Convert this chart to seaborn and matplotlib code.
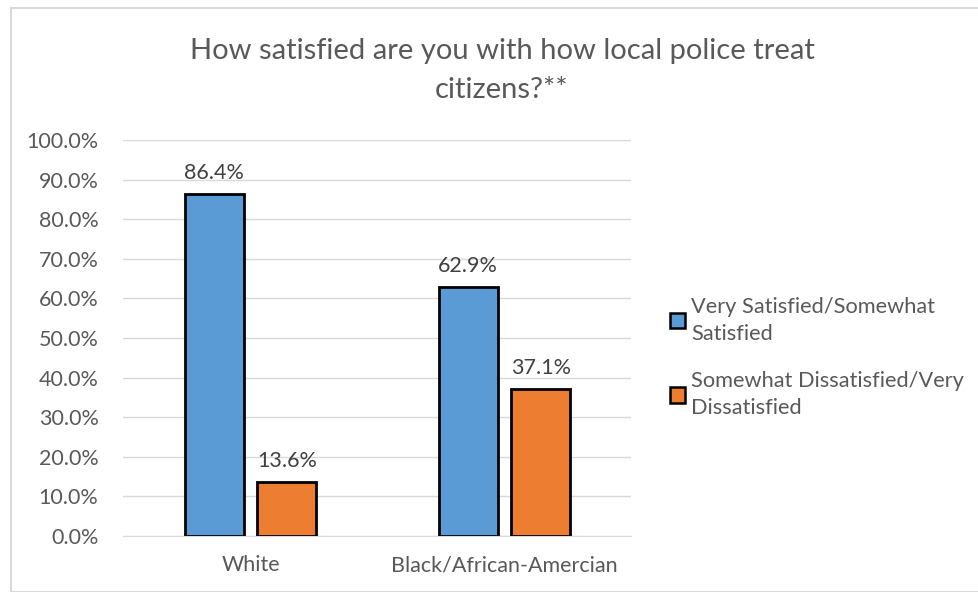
import pandas as pd
import numpy as np
import matplotlib.pyplot as plt
import seaborn as sns
from matplotlib.patches import Patch, Rectangle

# data
groups = ['White', 'Black/African-Amercian']
satisfied = [86.4, 62.9]
dissatisfied = [13.6, 37.1]
series_names = ['Very Satisfied/Somewhat\nSatisfied', 'Somewhat Dissatisfied/Very\nDissatisfied']
yticks = np.arange(0, 101, 10)
title_lines = ['How satisfied are you with how local police treat', 'citizens?**']

colors = ['#5B9BD5', '#ED7D31']
txt = '#595959'

df = pd.DataFrame({
    'group': groups * 2,
    'series': [series_names[0]] * 2 + [series_names[1]] * 2,
    'value': satisfied + dissatisfied,
})

sns.set_style('white')
plt.rcParams['font.family'] = ['Lato', 'DejaVu Sans']

fig = plt.figure(figsize=(9.79, 5.92), dpi=100)
ax = fig.add_axes([123.5 / 979, 1 - 536 / 592, 508 / 979, 396 / 592])

sns.barplot(data=df, x='group', y='value', hue='series', order=groups,
            hue_order=series_names, palette=colors, saturation=1, width=0.571, gap=0.18,
            edgecolor='black', linewidth=2, ax=ax, legend=False, zorder=3)

# data labels
for cont in ax.containers:
    for bar in cont:
        h = bar.get_height()
        ax.annotate('{:.1f}%'.format(h), (bar.get_x() + bar.get_width() / 2, h),
                    xytext=(0, 11), textcoords='offset points', ha='center',
                    va='baseline', fontsize=15.5, color='#404040')

ax.set_ylim(0, 100)
ax.set_xlim(-0.5, 1.5)
ax.set_yticks(yticks)
ax.set_yticklabels(['{:.1f}%'.format(v) for v in yticks])
ax.yaxis.grid(True, color='#D9D9D9', linewidth=1)
ax.set_axisbelow(True)
for s in ['top', 'right', 'left']:
    ax.spines[s].set_visible(False)
ax.spines['bottom'].set_color('#D9D9D9')
ax.tick_params(axis='y', length=0, labelsize=15.5, labelcolor=txt, pad=18)
ax.tick_params(axis='x', length=0, pad=14, labelsize=15.5, labelcolor=txt)
ax.set_xlabel('')
ax.set_ylabel('')

# title, two centred lines
fig.text(502 / 979, 1 - 59 / 592, title_lines[0], ha='center', va='baseline',
         fontsize=21, color=txt)
fig.text(502 / 979, 1 - 98 / 592, title_lines[1], ha='center', va='baseline',
         fontsize=21, color=txt)

handles = [Patch(facecolor=c, edgecolor='black', linewidth=1.8) for c in colors]
leg = fig.legend(handles, series_names, loc='upper left', bbox_to_anchor=(650 / 979, 1 - 277 / 592),
                 frameon=False, fontsize=15.7, labelcolor=txt, handlelength=0.7,
                 handleheight=0.7, handletextpad=0.3, labelspacing=1.25)
for t in leg.get_texts():
    t.set_linespacing(1.45)

# outer chart frame
fig.patches.append(Rectangle((11 / 979, 0), 1.2, 1 - 8 / 592, transform=fig.transFigure,
                             fill=False, edgecolor='#D9D9D9', linewidth=1.5))

fig.savefig('out.png', dpi=100)
